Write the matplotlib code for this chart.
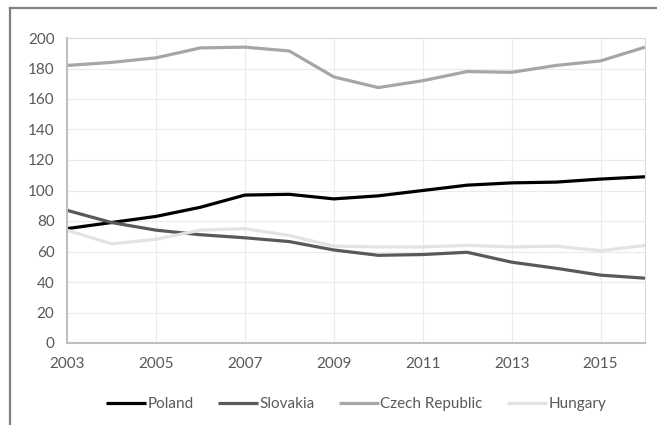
import matplotlib
matplotlib.use("Agg")
import matplotlib.pyplot as plt
from matplotlib.lines import Line2D

years = list(range(2003, 2017))
poland = [75, 79, 83, 89, 97, 97.5, 94.5, 96.5, 100, 103.5, 105, 105.5, 107.5, 109]
slovakia = [87, 79, 74, 71, 69, 66.5, 61, 57.5, 58, 59.5, 53, 49, 44.5, 42.5]
czech = [182, 184, 187, 193.5, 194, 191.5, 174.5, 167.5, 172, 178, 177.5, 182, 185, 194]
hungary = [74, 65, 68, 74, 75, 70.5, 63.5, 63, 63, 64, 63, 63.5, 60.5, 64]

series = [
    ("Poland", poland, "#000000"),
    ("Slovakia", slovakia, "#595959"),
    ("Czech Republic", czech, "#a6a6a6"),
    ("Hungary", hungary, "#e3e3e3"),
]

plt.rcParams["font.family"] = ["Lato", "DejaVu Sans"]
text_color = "#595959"

W, H = 657, 425
fig = plt.figure(figsize=(W / 100, H / 100), dpi=100)
ax = fig.add_axes([67 / W, 1 - 343 / H, (645 - 67) / W, (343 - 38) / H])

for name, vals, col in series:
    ax.plot(years, vals, color=col, lw=2.3, label=name, solid_capstyle="butt")

ax.set_xlim(2003, 2016)
ax.set_ylim(0, 200)
ax.set_xticks(range(2003, 2016, 2))
ax.set_yticks(range(0, 201, 20))
ax.grid(True, color="#ebebeb", lw=0.8)
ax.set_axisbelow(True)
for side in ["top", "right"]:
    ax.spines[side].set_color("#d9d9d9")
    ax.spines[side].set_linewidth(0.8)
for side in ["left", "bottom"]:
    ax.spines[side].set_color("#bfbfbf")
    ax.spines[side].set_linewidth(1.5)
ax.tick_params(length=0, labelsize=11, colors=text_color)
ax.tick_params(axis="x", pad=10)
ax.tick_params(axis="y", pad=9)

ax.legend(loc="center", bbox_to_anchor=(0.5, -0.2), ncol=4, frameon=False,
          fontsize=11, labelcolor=text_color, handlelength=2.6, handletextpad=0.1,
          columnspacing=1.6)

# outer chart frame (partially visible)
fig.add_artist(Line2D([10 / W, 10 / W], [0, 1 - 8 / H], color="#808080", lw=1.6,
                      transform=fig.transFigure))
fig.add_artist(Line2D([10 / W, 1], [1 - 8 / H, 1 - 8 / H], color="#808080", lw=1.6,
                      transform=fig.transFigure))

fig.savefig("out.png", dpi=100)
